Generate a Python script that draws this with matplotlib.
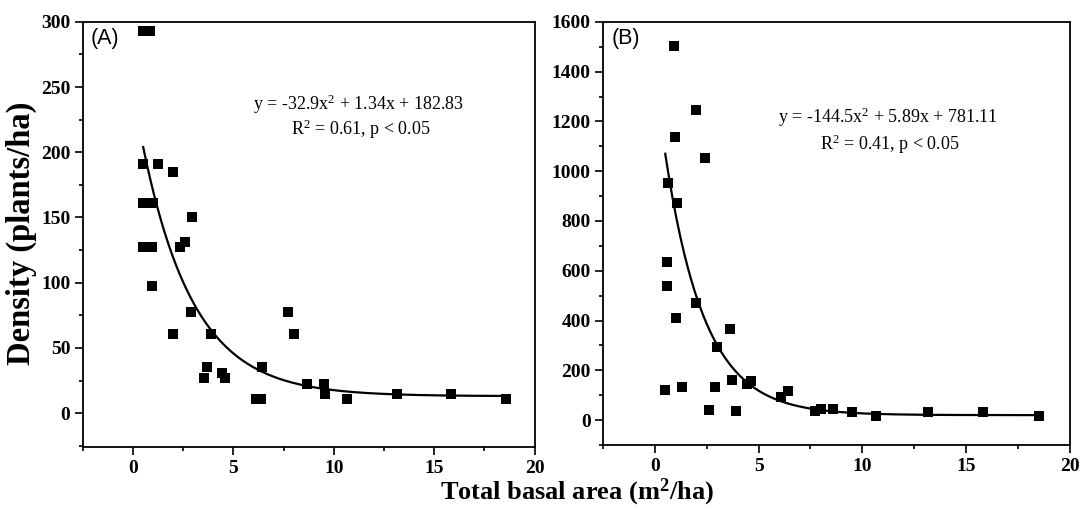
import numpy as np
import matplotlib
matplotlib.use('Agg')
import matplotlib.pyplot as plt
from matplotlib.ticker import MultipleLocator

plt.rcParams['font.family'] = 'Liberation Serif'
plt.rcParams['mathtext.default'] = 'regular'

# Panel A data: total basal area (m2/ha) vs density (plants/ha)
xa = [0.5, 0.85, 0.5, 1.25, 2.0, 0.5, 1.0, 2.95, 0.5, 0.95, 2.35, 2.6,
      0.95, 2.9, 2.0, 3.9, 7.7, 8.0, 3.7, 3.55, 4.45, 4.6, 6.4, 6.1, 6.35,
      8.65, 9.5, 9.55, 10.65, 13.15, 15.85, 18.6]
ya = [293, 293, 191, 191, 185, 161, 161, 150, 127, 127, 127, 131,
      97.5, 77.5, 60.5, 60.5, 77.5, 60.5, 35, 27, 30.5, 27, 35, 10.5, 10.5,
      22.5, 22.5, 15, 10.5, 15, 15, 10.5]

# Panel B data
xb = [0.9, 2.0, 0.97, 2.4, 0.62, 1.05, 0.57, 0.57, 1.0, 2.0, 3.6, 3.0,
      0.48, 1.3, 2.9, 2.6, 3.9, 3.7, 4.45, 4.65, 6.1, 6.4, 7.7, 8.0, 8.6,
      9.5, 10.65, 13.15, 15.8, 18.5]
yb = [1502, 1245, 1136, 1052, 951, 871, 636, 538, 409, 470, 365, 294,
      120, 132, 132, 40, 36, 160, 145, 157, 92, 117, 36, 44, 44,
      32, 16, 32, 32, 16]

# fitted decay curves (parameters): y = y0 + A*exp(-(x - 0.5)/t)
fit_a = dict(y0=13, A=191, t=2.55)
fit_b = dict(y0=20, A=1050, t=1.9)

eq_a = ['y = -32.9x$^2$ + 1.34x + 182.83', 'R$^2$ = 0.61, p < 0.05']
eq_b = ['y = -144.5x$^2$ + 5.89x + 781.11', 'R$^2$ = 0.41, p < 0.05']

fig = plt.figure(figsize=(10.83, 5.08), dpi=100)
ax1 = fig.add_axes([0.0766, 0.120, 0.417, 0.837])
ax2 = fig.add_axes([0.5568, 0.124, 0.431, 0.833])


def draw(ax, x, y, fit, eq, tag, ylim, ymaj, ymin, eqpos, gap):
    xs = np.linspace(0.5, 18.5, 200)
    ax.plot(xs, fit['y0'] + fit['A'] * np.exp(-(xs - 0.5) / fit['t']),
            color='black', lw=1.6, zorder=2)
    ax.scatter(x, y, marker='s', s=46, color='black', zorder=3, linewidths=0)
    ax.set_xlim(-2.5, 20)
    ax.set_ylim(*ylim)
    ax.xaxis.set_major_locator(MultipleLocator(5))
    ax.xaxis.set_minor_locator(MultipleLocator(2.5))
    ax.yaxis.set_major_locator(MultipleLocator(ymaj))
    ax.yaxis.set_minor_locator(MultipleLocator(ymin))
    ax.tick_params(which='both', direction='out', top=False, right=False)
    ax.tick_params(which='major', length=5.5, width=1.2, labelsize=14)
    ax.tick_params(which='minor', length=3, width=1.2)
    for lab in ax.get_xticklabels() + ax.get_yticklabels():
        lab.set_fontweight('bold')
    for sp in ax.spines.values():
        sp.set_linewidth(1.3)
    ax.text(0.018, 0.985, tag, transform=ax.transAxes, ha='left', va='top',
            fontsize=15.5, family='Liberation Sans')
    ax.text(eqpos[0], eqpos[1], eq[0], transform=ax.transAxes, ha='center',
            va='center', fontsize=13)
    ax.text(eqpos[0] + 0.005, eqpos[1] - gap, eq[1], transform=ax.transAxes,
            ha='center', va='center', fontsize=13)


draw(ax1, xa, ya, fit_a, eq_a, '(A)', (-26, 300), 50, 25, (0.61, 0.805), 0.058)
draw(ax2, xb, yb, fit_b, eq_b, '(B)', (-100, 1600), 200, 100, (0.61, 0.775), 0.065)

fig.text(0.0194, 0.541, 'Density (plants/ha)', rotation=90, ha='center',
         va='center', fontsize=23.5, fontweight='bold')
fig.text(0.533, 0.031, 'Total basal area (m$^2$/ha)', ha='center',
         va='center', fontsize=19, fontweight='bold')

fig.savefig('out.png', dpi=100)
